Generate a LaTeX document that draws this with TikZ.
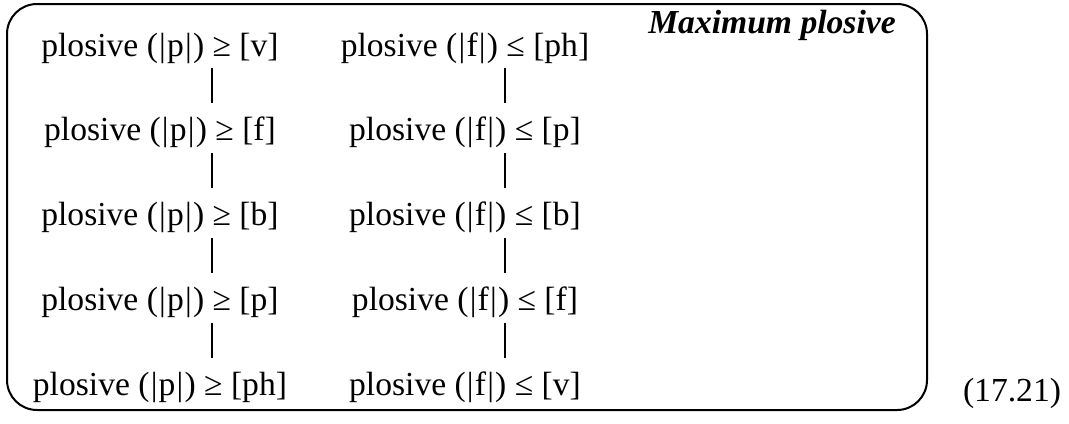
\documentclass[tikz,border=0pt]{standalone}
\usepackage{fontspec}
\setmainfont{Liberation Serif}
\usetikzlibrary{positioning}

\newcommand{\seg}[1]{(\kern0.6pt|\kern0.6pt#1\kern0.6pt|\kern0.6pt)}

\begin{document}
\begin{tikzpicture}[
  font=\fontsize{16.8}{20}\selectfont,
  node distance=26pt,
  cand/.style={inner sep=0pt,text height=12pt,text depth=4pt},
  link/.style={line width=1.4pt,shorten <=2pt,shorten >=6.5pt},
  frame/.style={draw,line width=1pt,rounded corners=15pt,minimum width=460pt,minimum height=203pt}
]
\useasboundingbox (0,0) rectangle (534.5pt,-211.5pt);
% tableau frame and its heading
\node[frame] (box) at (233.5pt,-103.5pt) {};
\node[anchor=base,font=\fontsize{16.8}{20}\selectfont\bfseries\itshape] (title) at (386pt,-16.5pt) {Maximum plosive};
% left hierarchy
\node[cand,anchor=base] (p1) at (80pt,-28pt) {plosive \seg{p} ≥ [v]};
\node[cand,below=of p1] (p2) {plosive \seg{p} ≥ [f]};
\node[cand,below=of p2] (p3) {plosive \seg{p} ≥ [b]};
\node[cand,below=of p3] (p4) {plosive \seg{p} ≥ [p]};
\node[cand,below=of p4] (p5) {plosive \seg{p} ≥ [ph]};
% right hierarchy
\node[cand,anchor=base] (f1) at (232.5pt,-28pt) {plosive \seg{f} ≤ [ph]};
\node[cand,below=of f1] (f2) {plosive \seg{f} ≤ [p]};
\node[cand,below=of f2] (f3) {plosive \seg{f} ≤ [b]};
\node[cand,below=of f3] (f4) {plosive \seg{f} ≤ [f]};
\node[cand,below=of f4] (f5) {plosive \seg{f} ≤ [v]};
% ranking links
\foreach \a/\b in {p1/p2,p2/p3,p3/p4,p4/p5}
  \draw[link] ([xshift=26pt]\a.south) -- ([xshift=26pt]\b.north);
\foreach \a/\b in {f1/f2,f2/f3,f3/f4,f4/f5}
  \draw[link] ([xshift=20pt]\a.south) -- ([xshift=20pt]\b.north);
% example number
\node[anchor=base] (num) at (506pt,-200.5pt) {(17.21)};
\end{tikzpicture}
\end{document}
